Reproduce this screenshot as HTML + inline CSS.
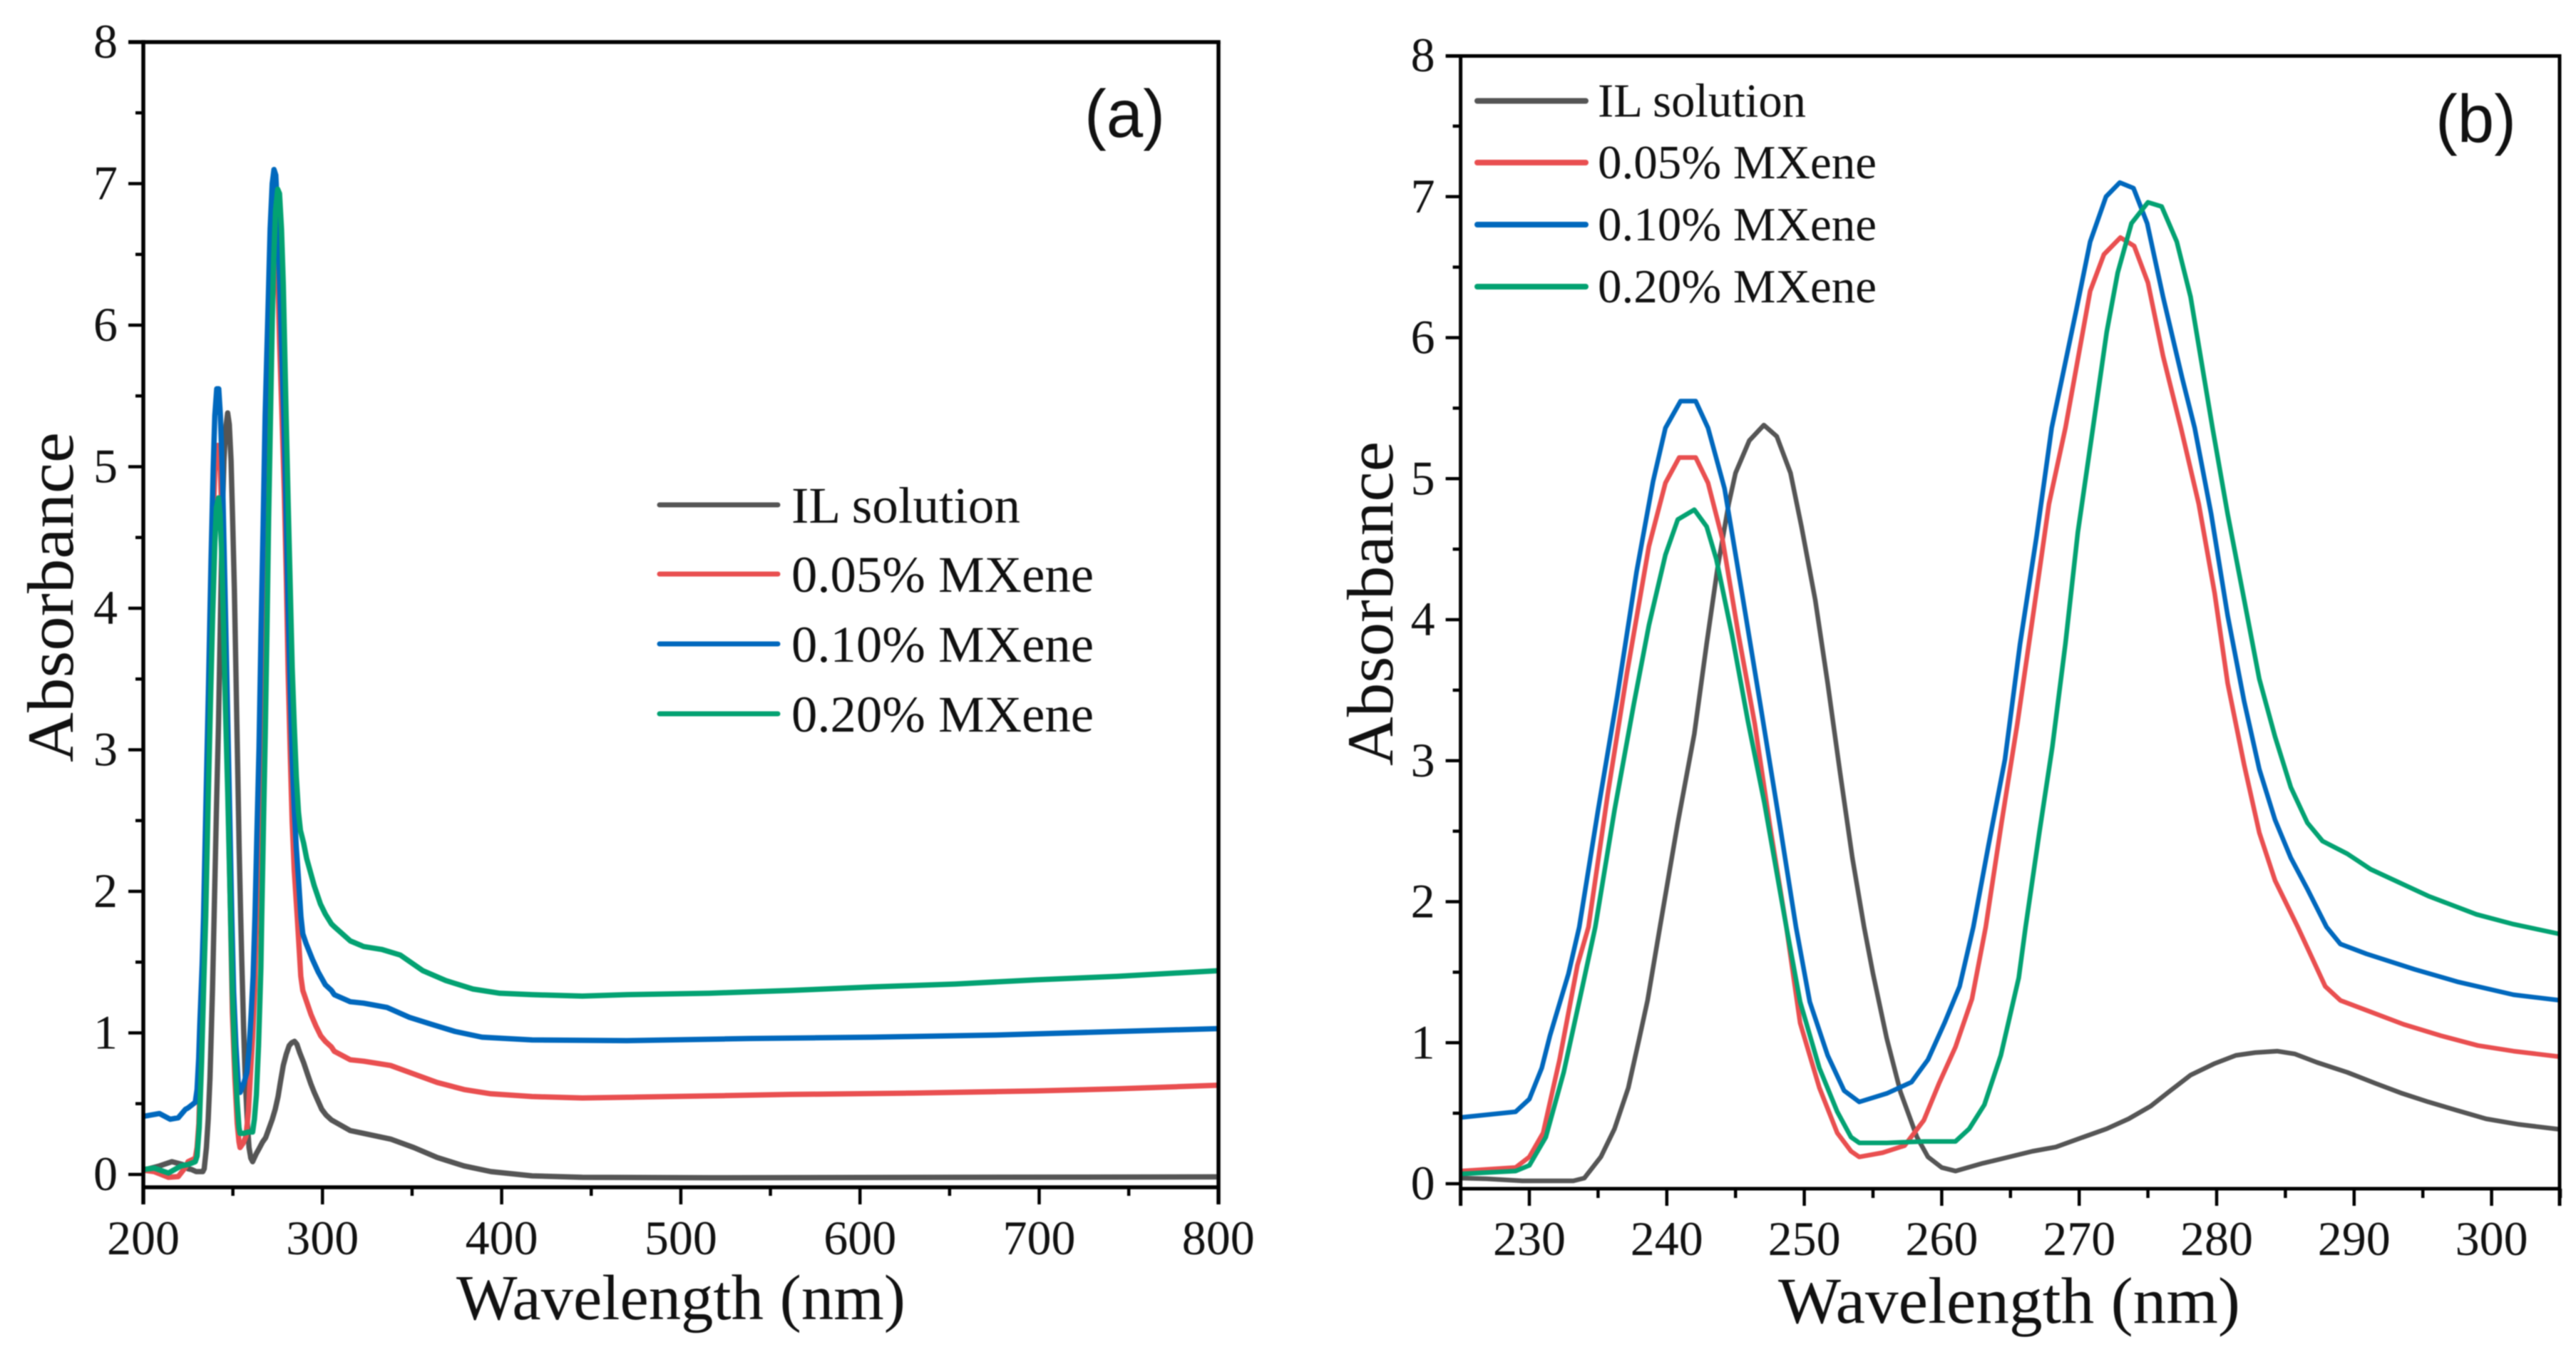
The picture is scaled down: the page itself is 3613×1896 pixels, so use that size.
<!DOCTYPE html>
<html lang="en">
<head>
<meta charset="utf-8">
<title>Absorbance spectra of IL solution and MXene dispersions</title>
<style>
html,body{margin:0;padding:0;background:#fff;width:3613px;height:1896px;overflow:hidden}
svg{display:block;filter:blur(0.7px)}
text{font-family:"Liberation Serif",serif;fill:#111}
.tick{font-size:68px}
.panel{font-family:"Liberation Sans",sans-serif;font-size:95px}
</style>
</head>
<body>
<svg id="figure" xmlns="http://www.w3.org/2000/svg" width="3613" height="1896" viewBox="0 0 3613 1896">
  <rect x="0" y="0" width="3613" height="1896" fill="#fff"/>
  <g id="panelA"></g>
  <g id="panelB"></g>

  <text x="640" y="1850" font-size="90" textLength="630" lengthAdjust="spacingAndGlyphs">Wavelength (nm)</text>
  <text transform="translate(102,1069) rotate(-90)" font-size="92" textLength="463" lengthAdjust="spacingAndGlyphs">Absorbance</text>
  <text x="1521" y="192" class="panel" textLength="113" lengthAdjust="spacingAndGlyphs">(a)</text>

  <text x="2494" y="1855" font-size="92" textLength="648" lengthAdjust="spacingAndGlyphs">Wavelength (nm)</text>
  <text transform="translate(1953,1074) rotate(-90)" font-size="92" textLength="455" lengthAdjust="spacingAndGlyphs">Absorbance</text>
  <text x="3416" y="199" class="panel" textLength="113" lengthAdjust="spacingAndGlyphs">(b)</text>
</svg>

<script>
// ---------- series names and colours ----------
const seriesNames = ["IL solution", "0.05% MXene", "0.10% MXene", "0.20% MXene"];
const seriesSlugs = ["il-solution", "mxene-005", "mxene-010", "mxene-020"];
const seriesColors = ["#555555", "#e94f50", "#0068bd", "#03a272"];

// ---------- tick labels ----------
const aXTicks = [200, 300, 400, 500, 600, 700, 800];
const aXMinor = [250, 350, 450, 550, 650, 750];
const bXTicks = [230, 240, 250, 260, 270, 280, 290, 300];
const bXMinor = [225, 235, 245, 255, 265, 275, 285, 295, 305];
const yTicks = [0, 1, 2, 3, 4, 5, 6, 7, 8];
const yMinor = [0.5, 1.5, 2.5, 3.5, 4.5, 5.5, 6.5, 7.5];

// ---------- zoomed region 225-305 nm (shown in panel b, also the middle of panel a) ----------
const grayWl = [225,226.9,229.5,233.2,234,235.2,236.2,237.2,238,238.6,239.5,240.8,242,242.9,243.7,244.5,245,246,247.06,248,249,249.8,250.8,251.7,252.6,253.5,254.35,255,256,257,258.2,259,260,261,263,264.5,266.6,268.3,270,272,273.6,275.2,276.5,278.1,279.8,281.4,282.8,284.4,285.7,287.3,289.5,291.6,293.5,295.4,297.5,299.6,302,305];
const grayAbs = [.04,.035,.02,.02,.04,.19,.39,.68,1.03,1.3,1.82,2.56,3.19,3.83,4.37,4.82,5.04,5.27,5.38,5.3,5.04,4.66,4.14,3.55,2.92,2.31,1.82,1.49,1.03,.65,.33,.19,.115,.09,.145,.18,.23,.26,.32,.39,.46,.55,.65,.77,.85,.91,.93,.94,.92,.86,.79,.71,.64,.58,.52,.46,.42,.385];

const redWl = [225,229,230,231,232.2,233.5,234.3,235.7,237.1,238.7,239.9,240.9,242.1,243,244.05,245.2,246.4,247.5,248.7,249.7,251.1,252.4,253.4,254,255.7,257.3,258.7,259.8,261,262.2,263.2,264.35,265.5,266.7,267.8,269,270.8,271.8,273,274,275,276.1,277.4,278.7,279.85,280.8,282,283.1,284.25,285.9,287.9,289,290.9,293.6,296.3,299,301.6,305];
const redAbs = [.09,.115,.19,.36,.88,1.55,1.82,2.76,3.62,4.52,4.97,5.15,5.15,4.97,4.57,3.9,3.26,2.54,1.82,1.14,.68,.36,.23,.19,.22,.27,.45,.71,.97,1.31,1.82,2.56,3.26,4.07,4.82,5.36,6.33,6.59,6.71,6.65,6.39,5.87,5.36,4.82,4.19,3.55,2.97,2.49,2.15,1.82,1.4,1.3,1.23,1.13,1.05,.98,.94,.9];

const blueWl = [225,229,230,230.9,231.5,232.85,233.63,235,236.4,237.8,239,239.9,241,242.1,243,244.2,245.4,246.8,248.2,249.4,250.4,251.7,252.9,254,256,257.8,259,260.2,261.3,262.3,263.4,264.6,265.7,266.9,268,269.8,270.8,271.95,272.95,273.95,274.95,276.1,277.5,278.4,279.6,280.8,282,283.1,284.25,285.4,286.6,288,289,290.9,294.4,297.6,301.6,305];
const blueAbs = [.47,.51,.6,.82,1.05,1.49,1.82,2.65,3.46,4.34,4.98,5.36,5.55,5.55,5.36,4.93,4.23,3.4,2.56,1.82,1.29,.91,.66,.58,.64,.72,.88,1.14,1.4,1.82,2.4,3.01,3.83,4.59,5.36,6.2,6.68,7,7.1,7.06,6.81,6.29,5.71,5.36,4.75,4.03,3.42,2.94,2.58,2.31,2.09,1.82,1.7,1.63,1.52,1.43,1.34,1.3];

const greenWl = [225,229,230,231.2,232.5,233.8,234.8,236.2,237.6,238.7,239.9,240.8,242,242.9,243.6,244.75,245.9,247.1,248.7,249.7,251.1,252.4,253.4,254,256,258.7,261,262,263.1,264.3,265.6,266.1,267.1,268.05,269,269.9,271,272,272.8,273.8,275,276,277.1,278.1,279.7,280.8,282,283.1,284.25,285.4,286.6,287.7,289.5,291.2,295.4,298.9,301.6,305];
const greenAbs = [.07,.09,.13,.33,.79,1.37,1.82,2.65,3.4,3.96,4.46,4.71,4.78,4.66,4.43,3.89,3.28,2.7,1.82,1.29,.82,.51,.33,.29,.29,.30,.30,.39,.56,.91,1.46,1.82,2.49,3.1,3.83,4.62,5.36,6.04,6.46,6.81,6.96,6.93,6.68,6.29,5.36,4.75,4.14,3.58,3.17,2.81,2.56,2.43,2.34,2.23,2.04,1.91,1.84,1.77];

// ---------- panel a only: 200-225 nm ----------
const grayHeadWl = [200,209,216,222];
const grayHeadAbs = [.03,.06,.09,.07];
const redHeadWl = [200,206,214,219.5,223.5];
const redHeadAbs = [.03,.02,-.02,-.015,.05];
const blueHeadWl = [200,209,215,219.5,223.5];
const blueHeadAbs = [.41,.43,.39,.40,.46];
const greenHeadWl = [200,206,214,221];
const greenHeadAbs = [.035,.045,.01,.06];

// ---------- panel a only: 305-800 nm ----------
const grayTailWl = [315.5,323,338,351,364,379,394,417,445,518,799];
const grayTailAbs = [.31,.29,.25,.19,.12,.06,.02,-.01,-.02,-.023,-.017];
const redTailWl = [306.6,315.5,323,338,351,364,379,394,417,445,470,518,561,630,698,744,800];
const redTailAbs = [.87,.81,.80,.77,.71,.65,.60,.57,.55,.54,.545,.555,.565,.575,.59,.605,.63];
const blueTailWl = [306.6,315.5,323,336,348.5,361,374,389,417,470,538,607,676,744,800];
const blueTailAbs = [1.27,1.22,1.21,1.18,1.11,1.06,1.01,.97,.95,.945,.96,.97,.985,1.01,1.03];
const greenTailWl = [306.6,315.5,323,333,343.4,356,368.8,384,399,417,445,470,516,561,607,653,698,744,800];
const greenTailAbs = [1.75,1.65,1.61,1.59,1.55,1.44,1.37,1.31,1.28,1.27,1.26,1.27,1.28,1.30,1.325,1.345,1.375,1.40,1.44];

const bSeries = [[grayWl,grayAbs],[redWl,redAbs],[blueWl,blueAbs],[greenWl,greenAbs]];
const aSeries = [
  [grayHeadWl.concat(grayWl,grayTailWl), grayHeadAbs.concat(grayAbs,grayTailAbs)],
  [redHeadWl.concat(redWl,redTailWl), redHeadAbs.concat(redAbs,redTailAbs)],
  [blueHeadWl.concat(blueWl,blueTailWl), blueHeadAbs.concat(blueAbs,blueTailAbs)],
  [greenHeadWl.concat(greenWl,greenTailWl), greenHeadAbs.concat(greenAbs,greenTailAbs)]
];

const NS = "http://www.w3.org/2000/svg";

function addLine(parent, x1, y1, x2, y2, color, width, name) {
  const el = document.createElementNS(NS, "line");
  el.setAttribute("x1", x1);
  el.setAttribute("y1", y1);
  el.setAttribute("x2", x2);
  el.setAttribute("y2", y2);
  el.setAttribute("stroke", color);
  el.setAttribute("stroke-width", width);
  
  
  parent.appendChild(el);
  return el;
}

function addText(parent, x, y, str, anchor, cls, name) {
  const el = document.createElementNS(NS, "text");
  el.setAttribute("x", x);
  el.setAttribute("y", y);
  el.setAttribute("text-anchor", anchor);
  if (cls) el.setAttribute("class", cls);
  
  
  el.textContent = str;
  parent.appendChild(el);
  return el;
}

function drawPanel(cfg) {
  const g = document.getElementById(cfg.id);
  const sx = w => cfg.x0 + (w - cfg.wMin) * cfg.xScale;
  const sy = v => cfg.y0 - v * cfg.yScale;
  const left = cfg.left, right = cfg.right, top = cfg.top, bottom = cfg.bottom;

  // series
  cfg.series.forEach(function (s, i) {
    const pts = s[0].map((w, k) => sx(w).toFixed(1) + "," + sy(s[1][k]).toFixed(1)).join(" ");
    const line = document.createElementNS(NS, "polyline");
    line.setAttribute("points", pts);
    line.setAttribute("fill", "none");
    line.setAttribute("stroke", seriesColors[i]);
    line.setAttribute("stroke-width", cfg.lineW);
    line.setAttribute("stroke-linejoin", "round");
    
    
    g.appendChild(line);
  });

  // frame
  const fw = cfg.frameW;
  addLine(g, left, top - fw / 2, left, cfg.tickEnd, "#000", fw, cfg.prefix + "-y-axis-line");
  addLine(g, left, bottom, right, bottom, "#000", fw, cfg.prefix + "-x-axis-line");
  addLine(g, left - cfg.yMajor, top, right + fw / 2, top, "#000", fw, cfg.prefix + "-top-border");
  addLine(g, right, top, right, cfg.tickEnd, "#000", fw, cfg.prefix + "-right-border");

  // y ticks
  yTicks.forEach(function (v) {
    if (v !== 8) addLine(g, left - cfg.yMajor, sy(v), left, sy(v), "#000", cfg.tickW, cfg.prefix + "-y-tick-" + v);
    addText(g, left - 36, sy(v) + 22, String(v), "end", "tick", cfg.prefix + "-y-tick-label-" + v);
  });
  yMinor.forEach(function (v) {
    addLine(g, left - cfg.yMinorLen, sy(v), left, sy(v), "#000", cfg.tickW, cfg.prefix + "-y-minor-tick");
  });

  // x ticks
  cfg.xTicks.forEach(function (w) {
    if (sx(w) < right - 2 && sx(w) > left + 2) addLine(g, sx(w), bottom, sx(w), cfg.tickEnd, "#000", cfg.tickW, cfg.prefix + "-x-tick-" + w);
    addText(g, sx(w), cfg.labelY, String(w), "middle", "tick", cfg.prefix + "-x-tick-label-" + w);
  });
  cfg.xMinor.forEach(function (w) {
    addLine(g, sx(w), bottom, sx(w), bottom + cfg.xMinorLen, "#000", cfg.tickW, cfg.prefix + "-x-minor-tick");
  });

  // legend
  seriesNames.forEach(function (name, i) {
    const ly = cfg.legendY[i];
    addLine(g, cfg.legendX1, ly, cfg.legendX2, ly, seriesColors[i], cfg.legendW, cfg.prefix + "-legend-line-" + seriesSlugs[i]).setAttribute("stroke-linecap", "round");
    const t = addText(g, cfg.legendTextX, ly + cfg.legendDy, name, "start", "", cfg.prefix + "-legend-label-" + seriesSlugs[i]);
    t.setAttribute("font-size", cfg.legendFont);
    t.setAttribute("textLength", i === 0 ? cfg.legendLen0 : cfg.legendLen);
    t.setAttribute("lengthAdjust", "spacingAndGlyphs");
  });
}

drawPanel({
  id: "panelA", prefix: "panel-a", series: aSeries,
  x0: 201, wMin: 200, xScale: 2.513, y0: 1647, yScale: 198.5,
  left: 201, right: 1709, top: 59, bottom: 1665, tickEnd: 1689,
  frameW: 5.5, tickW: 4.5, lineW: 7.5, yMajor: 21, yMinorLen: 11, xMinorLen: 12,
  xTicks: aXTicks, xMinor: aXMinor, labelY: 1759,
  legendY: [708, 805, 903, 1001], legendX1: 925, legendX2: 1091, legendW: 7,
  legendTextX: 1110, legendDy: 25, legendFont: 72, legendLen: 424, legendLen0: 321
});

drawPanel({
  id: "panelB", prefix: "panel-b", series: bSeries,
  x0: 2048.6, wMin: 225, xScale: 19.28, y0: 1660, yScale: 197.75,
  left: 2048.6, right: 3590, top: 78.5, bottom: 1667, tickEnd: 1691,
  frameW: 5, tickW: 4.5, lineW: 6.5, yMajor: 21, yMinorLen: 11, xMinorLen: 13,
  xTicks: bXTicks, xMinor: bXMinor, labelY: 1760,
  legendY: [141.5, 228, 315, 402], legendX1: 2072, legendX2: 2224, legendW: 8,
  legendTextX: 2241, legendDy: 22, legendFont: 67, legendLen: 391, legendLen0: 292
});
</script>
</body>
</html>
